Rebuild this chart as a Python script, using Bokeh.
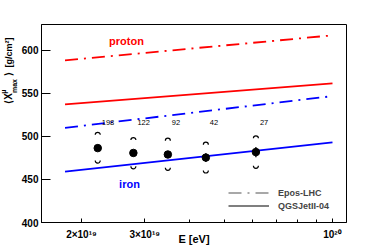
import math
from bokeh.plotting import figure
from bokeh.layouts import row
from bokeh.models import FixedTicker, Label, Legend, LegendItem
from bokeh.core.properties import value
from bokeh.embed import file_html
from bokeh.resources import INLINE

# ---- data ----
energy = [2.22e19, 2.79e19, 3.48e19, 4.44e19, 6.12e19]
xmax = [486.4, 480.8, 479.0, 475.4, 481.8]
stat = [3.0, 3.5, 4.0, 5.0, 6.0]
sys_up = [15.5, 15.0, 16.0, 15.0, 16.0]
sys_lo = [14.5, 15.5, 15.5, 15.0, 16.0]
counts = ["198", "122", "92", "42", "27"]
count_y = 516

model_energy = [1.8e19, 1.0e20]
proton_epos = [588.4, 617.4]
proton_qgs = [537.2, 561.6]
iron_epos = [510.0, 546.8]
iron_qgs = [459.0, 493.0]

x_ticks = [2e19, 3e19, 1e20]
x_tick_labels = ["2×10¹⁹", "3×10¹⁹", "10²⁰"]
x_minor = [4e19, 5e19, 6e19, 7e19, 8e19, 9e19]
y_ticks = [400, 450, 500, 550, 600]

FONT = "Liberation Sans"
DASHDOT = "13 6 2 6"
H = 244
LEFT_W = 18

# ---- main plot ----
p = figure(frame_width=305, frame_height=198, x_axis_type="log",
           x_range=(1.548e19, 1.094e20), y_range=(400, 630),
           output_backend="svg", toolbar_location=None,
           min_border_left=20, min_border_right=12,
           min_border_top=24, min_border_bottom=H - 24 - 198)
p.outline_line_color = "black"
p.outline_line_width = 1
p.grid.visible = False
p.background_fill_color = "white"
p.border_fill_color = "white"

xa = p.xaxis[0]
xa.ticker = FixedTicker(ticks=x_ticks, minor_ticks=x_minor)
xa.major_label_overrides = dict(zip(x_ticks, x_tick_labels))
xa.major_tick_in = 4
xa.major_tick_out = 0
xa.minor_tick_in = 3
xa.minor_tick_out = 0
xa.major_label_standoff = 6
xa.major_label_text_font = FONT
xa.major_label_text_font_size = "10px"
xa.major_label_text_font_style = "bold"
xa.major_label_text_color = "black"
xa.axis_line_color = "black"
xa.major_tick_line_color = "black"
xa.minor_tick_line_color = "black"
xa.axis_label = "E [eV]"
xa.axis_label_standoff = -10
xa.axis_label_text_font = FONT
xa.axis_label_text_font_size = "11px"
xa.axis_label_text_font_style = "bold"
xa.axis_label_text_color = "black"

ya = p.yaxis[0]
ya.axis_label = None
ya.ticker = FixedTicker(ticks=y_ticks)
ya.major_tick_in = 9
ya.major_tick_out = 0
ya.minor_tick_line_color = None
ya.major_label_standoff = 3
ya.major_label_text_font = FONT
ya.major_label_text_font_size = "10px"
ya.major_label_text_font_style = "bold"
ya.major_label_text_color = "black"
ya.axis_line_color = "black"
ya.major_tick_line_color = "black"

# model lines
p.line(model_energy, proton_epos, line_color="red", line_width=1.8, line_dash=DASHDOT)
p.line(model_energy, proton_qgs, line_color="red", line_width=1.8)
p.line(model_energy, iron_epos, line_color="blue", line_width=1.8, line_dash=DASHDOT)
p.line(model_energy, iron_qgs, line_color="blue", line_width=1.8)

# data points
y_hi = [v + s for v, s in zip(xmax, sys_up)]
y_lo = [v - s for v, s in zip(xmax, sys_lo)]
p.arc(x=energy, y=y_hi, radius=2.5, radius_units="screen",
      start_angle=0, end_angle=math.pi, line_color="black", line_width=1.2)
p.arc(x=energy, y=y_lo, radius=2.5, radius_units="screen",
      start_angle=math.pi, end_angle=2 * math.pi, line_color="black", line_width=1.2)
p.segment(x0=energy, y0=[v - s for v, s in zip(xmax, stat)],
          x1=energy, y1=[v + s for v, s in zip(xmax, stat)],
          line_color="black", line_width=1.3)
p.scatter(energy, xmax, size=7.5, color="black")

p.text(x=energy, y=[count_y] * len(energy), text=counts, x_offset=4,
       text_align="left", text_baseline="middle",
       text_font=value(FONT), text_font_size="7.5px", text_color="black")

# legend (proxy renderers with no visible points)
nan2 = [float("nan")] * 2
r_epos = p.line(model_energy, nan2, line_color="#8c8c8c", line_width=1.5, line_dash=DASHDOT)
r_qgs = p.line(model_energy, nan2, line_color="black", line_width=1.2)
leg = Legend(items=[LegendItem(label="Epos-LHC", renderers=[r_epos]),
                    LegendItem(label="QGSJetII-04", renderers=[r_qgs])],
             location=(187, 10), padding=0, margin=0, spacing=0,
             glyph_width=41, glyph_height=13, label_height=13,
             label_standoff=9, border_line_alpha=0, background_fill_alpha=0,
             label_text_font=FONT, label_text_font_size="9px",
             label_text_font_style="bold")
p.add_layout(leg)

def lab(text, x, y, size, color):
    p.add_layout(Label(x=x, y=y, x_units="screen", y_units="screen", text=text,
                       text_align="center", text_baseline="middle",
                       text_font=FONT, text_font_size=size, text_font_style="bold",
                       text_color=color))

lab("proton", 85, 182, "11px", "red")
lab("iron", 88, 39, "11px", "blue")

# ---- y-axis title strip (rotated text pieces) ----
lf = figure(width=LEFT_W, height=H, x_range=(0, LEFT_W), y_range=(H, 0),
            output_backend="svg", toolbar_location=None, min_border=0,
            x_axis_location=None, y_axis_location=None)
lf.outline_line_color = None
lf.grid.visible = False
lf.background_fill_color = "white"
lf.border_fill_color = "white"

rot = math.pi / 2
lf.text(x=[8, 8, 8], y=[97, 90, 62], text=["⟨", "X", "⟩"], angle=rot,
        text_align="center", text_baseline="middle", text_font=value(FONT),
        text_font_size="10px", text_font_style="bold", text_color="black")
lf.text(x=[8], y=[35], text=["[g/cm²]"], angle=rot,
        text_align="center", text_baseline="middle", text_font=value(FONT),
        text_font_size="9px", text_font_style="bold", text_color="black")
lf.text(x=[3, 13.5], y=[84, 77], text=["μ", "max"], angle=rot,
        text_align="center", text_baseline="middle", text_font=value(FONT),
        text_font_size="7px", text_font_style="bold", text_color="black")

layout = row(lf, p, spacing=0)
open("out.html", "w").write(file_html(layout, INLINE))
